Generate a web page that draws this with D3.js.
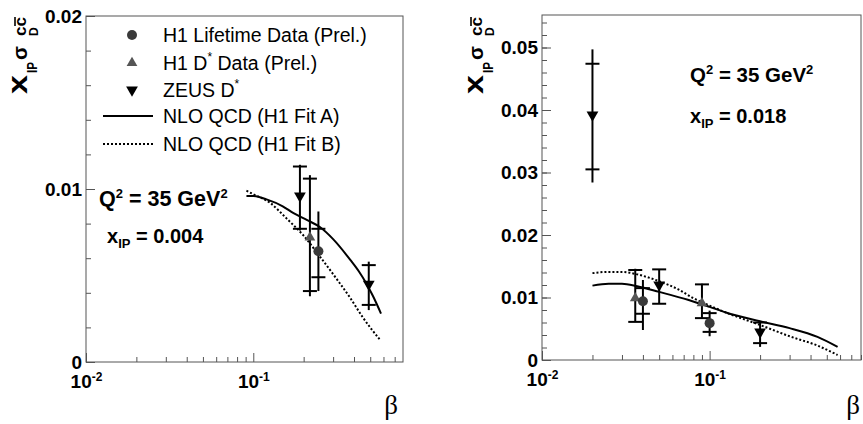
<!DOCTYPE html>
<html>
<head>
<meta charset="utf-8">
<script src="https://cdn.jsdelivr.net/npm/d3@7"></script>
<style>
  body { margin: 0; background: #fff; }
</style>
</head>
<body>
<div id="chart"></div>
<script>
const FONT = "'Liberation Sans', Arial, Helvetica, sans-serif";

// ---- left panel: x_IP = 0.004 ----
const leftLifetime = [
  { beta: 0.245, val: 0.0064, statLo: 0.0049, statHi: 0.0077, totLo: 0.0041, totHi: 0.0087 }
];
const leftDstar = [
  { beta: 0.218, val: 0.0072, statLo: 0.0041, statHi: 0.0106, totLo: 0.0038, totHi: 0.0108 }
];
const leftZeus = [
  { beta: 0.19, val: 0.0096, statLo: 0.0077, statHi: 0.0113, totLo: 0.0076, totHi: 0.0114 },
  { beta: 0.49, val: 0.0045, statLo: 0.0033, statHi: 0.0056, totLo: 0.0030, totHi: 0.0058 }
];
const leftFitA = [[0.091, 0.0096], [0.10, 0.0096], [0.12, 0.0094], [0.15, 0.0090], [0.174, 0.0086],
  [0.21, 0.0082], [0.25, 0.0078], [0.30, 0.0071], [0.38, 0.0059], [0.43, 0.0052], [0.47, 0.0046],
  [0.52, 0.0038], [0.58, 0.0028]];
const leftFitB = [[0.091, 0.0099], [0.10, 0.0097], [0.126, 0.0092], [0.158, 0.0083], [0.20, 0.0073],
  [0.25, 0.0061], [0.315, 0.0048], [0.38, 0.0037], [0.45, 0.0026], [0.57, 0.0013]];

// ---- right panel: x_IP = 0.018 ----
const rightLifetime = [
  { beta: 0.040, val: 0.0094, statLo: 0.0074, statHi: 0.0115, totLo: 0.0048, totHi: 0.0128 },
  { beta: 0.100, val: 0.0059, statLo: 0.0045, statHi: 0.0075, totLo: 0.0038, totHi: 0.0079 }
];
const rightDstar = [
  { beta: 0.036, val: 0.0099, statLo: 0.0061, statHi: 0.0144, totLo: 0.0061, totHi: 0.0146 },
  { beta: 0.090, val: 0.0091, statLo: 0.0067, statHi: 0.0121, totLo: 0.0067, totHi: 0.0122 }
];
const rightZeus = [
  { beta: 0.020, val: 0.0392, statLo: 0.0305, statHi: 0.0474, totLo: 0.0284, totHi: 0.0497 },
  { beta: 0.050, val: 0.0120, statLo: 0.0090, statHi: 0.0145, totLo: 0.0090, totHi: 0.0145 },
  { beta: 0.200, val: 0.0045, statLo: 0.0027, statHi: 0.0060, totLo: 0.0021, totHi: 0.0060 }
];
const rightFitA = [[0.02, 0.0119], [0.025, 0.0122], [0.03, 0.0122], [0.037, 0.0118], [0.05, 0.0109],
  [0.075, 0.0096], [0.10, 0.0085], [0.125, 0.0076], [0.20, 0.0062], [0.30, 0.0051], [0.44, 0.0037],
  [0.58, 0.0021]];
const rightFitB = [[0.02, 0.0139], [0.025, 0.0141], [0.03, 0.0141], [0.037, 0.0137], [0.05, 0.0126],
  [0.065, 0.0113], [0.08, 0.0099], [0.10, 0.0087], [0.125, 0.0076], [0.20, 0.0056], [0.30, 0.0038],
  [0.44, 0.0023], [0.58, 0.0008]];

// ---- axes ----
const xMajorTicks = [0.01, 0.1];
const xMajorExp = ["-2", "-1"];
const leftYTicks = [0, 0.01, 0.02];
const rightYTicks = [0, 0.01, 0.02, 0.03, 0.04, 0.05];

const legendLabels = ["H1 Lifetime Data (Prel.)", "H1 D", "ZEUS D", "NLO QCD (H1 Fit A)", "NLO QCD (H1 Fit B)"];

const W = 863, H = 424;
const svg = d3.select("#chart").append("svg")
  .attr("width", W).attr("height", H)
  .style("background", "#fff");

const AXIS = "#555";

function drawPanel(p) {
  const x = d3.scaleLog().domain(p.xDomain).range([p.left, p.right]);
  const y = d3.scaleLinear().domain(p.yDomain).range([p.bottom, p.top]);
  const g = svg.append("g");

  // minor x ticks (log sub-decades)
  const xMinor = x.ticks().filter(t => Math.abs(Math.log10(t) - Math.round(Math.log10(t))) > 1e-6);
  g.append("g").attr("transform", `translate(0,${p.bottom})`)
    .call(d3.axisBottom(x).tickValues(xMinor).tickSize(-5).tickSizeOuter(0).tickFormat(""));
  const xa = g.append("g").attr("transform", `translate(0,${p.bottom})`)
    .call(d3.axisBottom(x).tickValues(xMajorTicks).tickSize(-9).tickSizeOuter(0).tickPadding(13));
  xa.selectAll(".tick text").each(function(d, i) {
    const t = d3.select(this).text("10");
    t.append("tspan").attr("font-size", 12).attr("dy", -7).text(xMajorExp[i]);
  });

  // y ticks
  const yMinor = d3.range(p.yDomain[0], p.yDomain[1] + 1e-9, 0.002);
  g.append("g").attr("transform", `translate(${p.left},0)`)
    .call(d3.axisLeft(y).tickValues(yMinor).tickSize(-5).tickSizeOuter(0).tickFormat(""));
  g.append("g").attr("transform", `translate(${p.left},0)`)
    .call(d3.axisLeft(y).tickValues(p.yTicks).tickSize(-9).tickSizeOuter(0).tickPadding(4)
      .tickFormat(d => d === 0 ? "0" : d3.format(".2f")(d)));

  g.selectAll(".domain").remove();
  g.selectAll(".tick line").attr("stroke", AXIS);
  g.selectAll(".tick text").attr("font-family", FONT).attr("font-size", 19)
    .attr("font-weight", "bold").attr("fill", "#000");

  // frame
  g.append("rect")
    .attr("x", p.left).attr("y", p.top)
    .attr("width", p.right - p.left).attr("height", p.bottom - p.top)
    .attr("fill", "none").attr("stroke", AXIS).attr("stroke-width", 1);

  // theory curves
  const line = d3.line().x(d => x(d[0])).y(d => y(d[1])).curve(d3.curveMonotoneX);
  g.append("path").datum(p.fitB).attr("d", line)
    .attr("fill", "none").attr("stroke", "#000").attr("stroke-width", 2).attr("stroke-dasharray", "2,2");
  g.append("path").datum(p.fitA).attr("d", line)
    .attr("fill", "none").attr("stroke", "#000").attr("stroke-width", 2);

  // error bars: line = total, ticks = statistical
  function errors(data) {
    const eg = g.append("g").attr("stroke", "#000").attr("stroke-width", 2);
    data.forEach(d => {
      const cx = x(d.beta);
      eg.append("line").attr("x1", cx).attr("x2", cx).attr("y1", y(d.totLo)).attr("y2", y(d.totHi));
      [d.statLo, d.statHi].forEach(v => {
        eg.append("line").attr("x1", cx - 7).attr("x2", cx + 7).attr("y1", y(v)).attr("y2", y(v));
      });
    });
  }
  errors(p.dstar); errors(p.lifetime); errors(p.zeus);

  g.selectAll(".m-dstar").data(p.dstar).join("path").attr("class", "m-dstar")
    .attr("d", d3.symbol(d3.symbolTriangle, 50))
    .attr("transform", d => `translate(${x(d.beta)},${y(d.val)})`)
    .attr("fill", "#555");
  g.selectAll(".m-life").data(p.lifetime).join("circle").attr("class", "m-life")
    .attr("cx", d => x(d.beta)).attr("cy", d => y(d.val)).attr("r", 5)
    .attr("fill", "#3a3a3a");
  g.selectAll(".m-zeus").data(p.zeus).join("path").attr("class", "m-zeus")
    .attr("d", d3.symbol(d3.symbolTriangle, 60))
    .attr("transform", d => `translate(${x(d.beta)},${y(d.val)}) rotate(180)`)
    .attr("fill", "#000");

  // beta label
  g.append("text").attr("x", p.betaX).attr("y", 414)
    .attr("text-anchor", "middle")
    .attr("font-family", "'Liberation Serif', 'Times New Roman', serif")
    .attr("font-size", 27).text("β");

  // y title: x_IP sigma_D^{c cbar}
  const tg = svg.append("g").attr("transform", `translate(${p.titleX},94) rotate(-90)`)
    .attr("font-family", FONT).attr("font-weight", "bold").attr("fill", "#000");
  tg.append("text").attr("x", 0).attr("y", 0).attr("font-size", 28)
    .attr("textLength", 19).attr("lengthAdjust", "spacingAndGlyphs").text("x");
  tg.append("text").attr("x", 21).attr("y", 10).attr("font-size", 14)
    .attr("textLength", 11).attr("lengthAdjust", "spacingAndGlyphs").text("IP");
  tg.append("text").attr("x", 34).attr("y", 0).attr("font-size", 21)
    .attr("textLength", 14).attr("lengthAdjust", "spacingAndGlyphs").text("σ");
  tg.append("text").attr("x", 58).attr("y", -1).attr("font-size", 16)
    .attr("textLength", 19).attr("lengthAdjust", "spacingAndGlyphs").text("cc");
  tg.append("line").attr("x1", 68).attr("x2", 77).attr("y1", -12).attr("y2", -12)
    .attr("stroke", "#000").attr("stroke-width", 1.6);
  tg.append("text").attr("x", 58).attr("y", 11).attr("font-size", 12).text("D");

  // Q2 / x_IP labels
  const q = g.append("text").attr("x", p.qX).attr("y", p.qY)
    .attr("font-family", FONT).attr("font-weight", "bold").attr("font-size", p.qSize);
  q.append("tspan").text("Q");
  q.append("tspan").attr("font-size", 13).attr("dy", -8).text("2");
  q.append("tspan").attr("dy", 8).text(" = 35 GeV");
  q.append("tspan").attr("font-size", 13).attr("dy", -8).text("2");
  const xi = g.append("text").attr("x", p.xipX).attr("y", p.xipY)
    .attr("font-family", FONT).attr("font-weight", "bold").attr("font-size", 20);
  xi.append("tspan").text("x");
  xi.append("tspan").attr("font-size", 13).attr("dy", 5).text("IP");
  xi.append("tspan").attr("dy", -5).text(" = " + p.xipValue);

  return { x, y, g };
}

const left = drawPanel({
  xDomain: [0.01, 0.785], yDomain: [0, 0.02],
  left: 86, right: 403, top: 16, bottom: 362,
  yTicks: leftYTicks,
  lifetime: leftLifetime, dstar: leftDstar, zeus: leftZeus,
  fitA: leftFitA, fitB: leftFitB,
  betaX: 391, titleX: 27,
  qX: 99, qY: 206, qSize: 21.5, xipX: 107, xipY: 243, xipValue: "0.004"
});

drawPanel({
  xDomain: [0.01, 0.80], yDomain: [0, 0.0552],
  left: 542, right: 861, top: 15, bottom: 360,
  yTicks: rightYTicks,
  lifetime: rightLifetime, dstar: rightDstar, zeus: rightZeus,
  fitA: rightFitA, fitB: rightFitB,
  betaX: 853, titleX: 483,
  qX: 690, qY: 82, qSize: 20.5, xipX: 690, xipY: 123, xipValue: "0.018"
});

// legend (left panel)
const lg = left.g.append("g").attr("font-family", FONT).attr("font-size", 19.5);
const rowY = [35, 63, 90, 116, 144];
legendLabels.forEach((lab, i) => {
  const t = lg.append("text").attr("x", 163).attr("y", rowY[i] + 7).text(lab);
  if (i === 1) {
    t.append("tspan").attr("font-size", 12).attr("dy", -9).text("*");
    t.append("tspan").attr("dy", 9).text(" Data (Prel.)");
  } else if (i === 2) {
    t.append("tspan").attr("font-size", 12).attr("dy", -9).text("*");
  }
});
lg.append("circle").attr("cx", 132).attr("cy", rowY[0]).attr("r", 5).attr("fill", "#3a3a3a");
lg.append("path").attr("d", d3.symbol(d3.symbolTriangle, 50))
  .attr("transform", `translate(132,${rowY[1]})`).attr("fill", "#555");
lg.append("path").attr("d", d3.symbol(d3.symbolTriangle, 60))
  .attr("transform", `translate(132,${rowY[2]}) rotate(180)`).attr("fill", "#000");
lg.append("line").attr("x1", 103).attr("x2", 153).attr("y1", rowY[3]).attr("y2", rowY[3])
  .attr("stroke", "#000").attr("stroke-width", 2);
lg.append("line").attr("x1", 103).attr("x2", 153).attr("y1", rowY[4]).attr("y2", rowY[4])
  .attr("stroke", "#000").attr("stroke-width", 2).attr("stroke-dasharray", "2,2");
</script>
</body>
</html>
